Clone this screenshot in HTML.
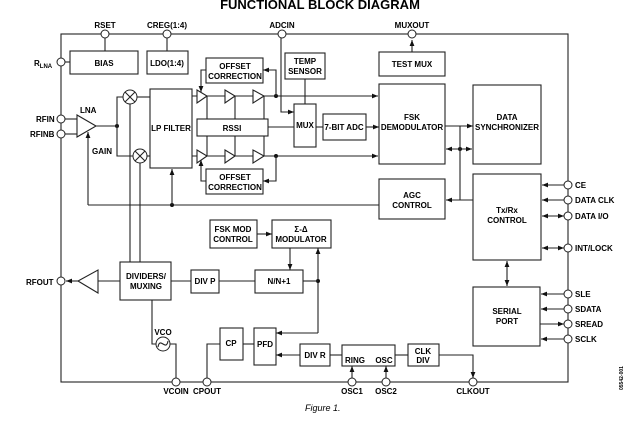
<!DOCTYPE html>
<html><head><meta charset="utf-8"><style>
html,body{margin:0;padding:0;background:#fff;}
svg{display:block;}
text{font-family:"Liberation Sans",Arial,sans-serif;font-weight:bold;font-size:8px;fill:#000;}
.b{fill:#fff;stroke:#222;stroke-width:1.1;}
.l{fill:none;stroke:#222;stroke-width:1.1;}
.c{fill:#fff;stroke:#222;stroke-width:1;}
</style></head><body>
<svg width="640" height="431" viewBox="0 0 640 431" xmlns="http://www.w3.org/2000/svg">
<defs>
<marker id="a" viewBox="0 0 10 10" refX="10" refY="5" markerWidth="7" markerHeight="6" orient="auto-start-reverse" markerUnits="userSpaceOnUse"><path d="M0,1 L10,5 L0,9 z" fill="#111"/></marker>
</defs>
<text x="320" y="9" text-anchor="middle" style="font-size:13px">FUNCTIONAL BLOCK DIAGRAM</text>
<!-- frame -->
<rect x="61" y="34" width="507" height="348" class="l"/>
<!-- top pins -->
<line x1="105" y1="34" x2="105" y2="51" class="l"/>
<line x1="167" y1="34" x2="167" y2="51" class="l"/>
<rect x="70" y="51" width="68" height="23" class="b"/><text x="104" y="66" text-anchor="middle">BIAS</text>
<rect x="147" y="51" width="41" height="23" class="b"/><text x="167" y="66" text-anchor="middle">LDO(1:4)</text>
<text x="105" y="28" text-anchor="middle">RSET</text>
<text x="167" y="28" text-anchor="middle">CREG(1:4)</text>
<text x="282" y="28" text-anchor="middle">ADCIN</text>
<text x="412" y="28" text-anchor="middle">MUXOUT</text>
<line x1="65" y1="62" x2="70" y2="62" class="l"/>
<text x="34" y="66">R<tspan style="font-size:6px" dy="2">LNA</tspan></text>
<!-- ADCIN -->
<polyline points="281,34 281,112 294,112" class="l" marker-end="url(#a)"/>
<!-- LNA -->
<line x1="65" y1="119" x2="77" y2="119" class="l"/><line x1="65" y1="134" x2="77" y2="134" class="l"/>
<polygon points="77,115 77,137 96,126" class="b"/>
<text x="80" y="113">LNA</text><text x="36" y="122">RFIN</text><text x="30" y="137">RFINB</text>
<text x="92" y="154">GAIN</text>
<polyline points="88,205 88,132" class="l" marker-end="url(#a)"/>
<line x1="96" y1="126" x2="117" y2="126" class="l"/>
<circle cx="117" cy="126" r="2" fill="#111"/>
<polyline points="117,126 117,97 123,97" class="l"/>
<polyline points="117,126 117,156 133,156" class="l"/>
<line x1="137" y1="97" x2="150" y2="97" class="l"/>
<line x1="147" y1="156" x2="150" y2="156" class="l"/>
<line x1="130" y1="104" x2="130" y2="262" class="l"/>
<line x1="140" y1="163" x2="140" y2="262" class="l"/>
<g class="c"><circle cx="130" cy="97" r="7"/><circle cx="140" cy="156" r="7"/></g>
<path d="M125,92 L135,102 M135,92 L125,102 M135,151 L145,161 M145,151 L135,161" class="l"/>
<rect x="150" y="89" width="42" height="79" class="b"/><text x="171" y="131" text-anchor="middle">LP FILTER</text>
<!-- amplifier lines -->
<line x1="192" y1="96" x2="378" y2="96" class="l" marker-end="url(#a)"/>
<line x1="192" y1="156" x2="378" y2="156" class="l" marker-end="url(#a)"/>
<line x1="207" y1="96" x2="207" y2="156" class="l"/>
<line x1="235" y1="96" x2="235" y2="156" class="l"/>
<line x1="264" y1="96" x2="264" y2="156" class="l"/>
<g class="b">
<polygon points="197,90 197,103 207,96"/><polygon points="225,90 225,103 235,96"/><polygon points="253,90 253,103 264,96"/>
<polygon points="197,150 197,163 207,156"/><polygon points="225,150 225,163 235,156"/><polygon points="253,150 253,163 264,156"/>
</g>
<rect x="197" y="119" width="71" height="17" class="b"/><text x="232" y="131" text-anchor="middle">RSSI</text>
<line x1="268" y1="127" x2="294" y2="127" class="l"/>
<circle cx="276" cy="96" r="2" fill="#111"/><circle cx="276" cy="156" r="2" fill="#111"/>
<polyline points="276,96 276,70 263,70" class="l" marker-end="url(#a)"/>
<polyline points="276,156 276,181 263,181" class="l" marker-end="url(#a)"/>
<polyline points="206,70 201,70 201,92" class="l" marker-end="url(#a)"/>
<polyline points="206,181 201,181 201,160" class="l" marker-end="url(#a)"/>
<rect x="206" y="58" width="57" height="25" class="b"/><text x="235" y="69" text-anchor="middle">OFFSET</text><text x="235" y="79" text-anchor="middle">CORRECTION</text>
<rect x="206" y="169" width="57" height="25" class="b"/><text x="235" y="180" text-anchor="middle">OFFSET</text><text x="235" y="190" text-anchor="middle">CORRECTION</text>
<line x1="305" y1="79" x2="305" y2="104" class="l"/>
<rect x="285" y="53" width="40" height="26" class="b"/><text x="305" y="64" text-anchor="middle">TEMP</text><text x="305" y="74" text-anchor="middle">SENSOR</text>
<rect x="294" y="104" width="22" height="43" class="b"/><text x="305" y="128" text-anchor="middle">MUX</text>
<line x1="316" y1="127" x2="323" y2="127" class="l"/>
<rect x="323" y="114" width="43" height="26" class="b"/><text x="344" y="130" text-anchor="middle">7-BIT ADC</text>
<line x1="366" y1="127" x2="379" y2="127" class="l" marker-end="url(#a)"/>
<!-- right blocks -->
<line x1="412" y1="52" x2="412" y2="40" class="l" marker-end="url(#a)"/>
<rect x="379" y="52" width="66" height="24" class="b"/><text x="412" y="67" text-anchor="middle">TEST MUX</text>
<rect x="379" y="84" width="66" height="80" class="b"/><text x="412" y="120" text-anchor="middle">FSK</text><text x="412" y="130" text-anchor="middle">DEMODULATOR</text>
<rect x="473" y="85" width="68" height="79" class="b"/><text x="507" y="120" text-anchor="middle">DATA</text><text x="507" y="130" text-anchor="middle">SYNCHRONIZER</text>
<line x1="445" y1="126" x2="473" y2="126" class="l" marker-end="url(#a)"/>
<line x1="446" y1="149" x2="472" y2="149" class="l" marker-start="url(#a)" marker-end="url(#a)"/>
<circle cx="460" cy="149" r="2" fill="#111"/>
<line x1="460" y1="126" x2="460" y2="200" class="l"/>
<line x1="473" y1="200" x2="446" y2="200" class="l" marker-end="url(#a)"/>
<rect x="379" y="179" width="66" height="40" class="b"/><text x="412" y="198" text-anchor="middle">AGC</text><text x="412" y="208" text-anchor="middle">CONTROL</text>
<line x1="88" y1="205" x2="379" y2="205" class="l"/>
<circle cx="172" cy="205" r="2" fill="#111"/>
<line x1="172" y1="205" x2="172" y2="169" class="l" marker-end="url(#a)"/>
<rect x="473" y="174" width="68" height="86" class="b"/><text x="507" y="213" text-anchor="middle">Tx/Rx</text><text x="507" y="223" text-anchor="middle">CONTROL</text>
<line x1="507" y1="261" x2="507" y2="286" class="l" marker-start="url(#a)" marker-end="url(#a)"/>
<rect x="473" y="287" width="67" height="59" class="b"/><text x="507" y="314" text-anchor="middle">SERIAL</text><text x="507" y="324" text-anchor="middle">PORT</text>
<line x1="564" y1="185" x2="542" y2="185" class="l" marker-end="url(#a)"/>
<line x1="564" y1="200" x2="542" y2="200" class="l" marker-end="url(#a)"/>
<line x1="564" y1="216" x2="542" y2="216" class="l" marker-start="url(#a)" marker-end="url(#a)"/>
<line x1="564" y1="248" x2="542" y2="248" class="l" marker-start="url(#a)" marker-end="url(#a)"/>
<line x1="564" y1="294" x2="541" y2="294" class="l" marker-end="url(#a)"/>
<line x1="564" y1="309" x2="541" y2="309" class="l" marker-end="url(#a)"/>
<line x1="540" y1="324" x2="564" y2="324" class="l" marker-end="url(#a)"/>
<line x1="564" y1="339" x2="541" y2="339" class="l" marker-end="url(#a)"/>
<text x="575" y="188">CE</text><text x="575" y="203">DATA CLK</text><text x="575" y="219">DATA I/O</text><text x="575" y="251">INT/LOCK</text>
<text x="575" y="297">SLE</text><text x="575" y="312">SDATA</text><text x="575" y="327">SREAD</text><text x="575" y="342">SCLK</text>
<!-- bottom -->
<rect x="210" y="220" width="47" height="28" class="b"/><text x="233" y="232" text-anchor="middle">FSK MOD</text><text x="233" y="242" text-anchor="middle">CONTROL</text>
<line x1="257" y1="234" x2="272" y2="234" class="l" marker-end="url(#a)"/>
<rect x="272" y="220" width="59" height="28" class="b"/><text x="301" y="232" text-anchor="middle">Σ-Δ</text><text x="301" y="242" text-anchor="middle">MODULATOR</text>
<line x1="290" y1="248" x2="290" y2="270" class="l" marker-end="url(#a)"/>
<line x1="318" y1="333" x2="318" y2="248" class="l" marker-end="url(#a)"/>
<circle cx="318" cy="281" r="2" fill="#111"/>
<line x1="303" y1="281" x2="318" y2="281" class="l"/>
<polyline points="318,333 276,333" class="l" marker-end="url(#a)"/>
<rect x="120" y="262" width="51" height="38" class="b"/><text x="146" y="279" text-anchor="middle">DIVIDERS/</text><text x="146" y="289" text-anchor="middle">MUXING</text>
<line x1="171" y1="281" x2="191" y2="281" class="l"/>
<rect x="191" y="270" width="28" height="23" class="b"/><text x="205" y="284" text-anchor="middle">DIV P</text>
<line x1="219" y1="281" x2="255" y2="281" class="l"/>
<rect x="255" y="270" width="48" height="23" class="b"/><text x="279" y="284" text-anchor="middle">N/N+1</text>
<line x1="120" y1="281" x2="98" y2="281" class="l"/>
<polygon points="98,270 98,293 78,281" class="b"/>
<line x1="78" y1="281" x2="66" y2="281" class="l" marker-end="url(#a)"/>
<text x="26" y="285">RFOUT</text>
<polyline points="152,300 152,344 156,344" class="l"/>
<polyline points="170,344 176,344 176,378" class="l"/>
<circle cx="163" cy="344" r="7" class="c"/>
<path d="M158,347 C160,336 166,352 168,341" class="l"/>
<text x="163" y="335" text-anchor="middle">VCO</text>
<polyline points="207,378 207,344 220,344" class="l"/>
<rect x="220" y="328" width="23" height="32" class="b"/><text x="231" y="346" text-anchor="middle">CP</text>
<line x1="243" y1="344" x2="254" y2="344" class="l"/>
<rect x="254" y="328" width="22" height="37" class="b"/><text x="265" y="347" text-anchor="middle">PFD</text>
<line x1="300" y1="355" x2="276" y2="355" class="l" marker-end="url(#a)"/>
<rect x="300" y="344" width="30" height="22" class="b"/><text x="315" y="358" text-anchor="middle">DIV R</text>
<line x1="330" y1="355" x2="342" y2="355" class="l"/>
<rect x="342" y="345" width="53" height="21" class="b"/><text x="355" y="363" text-anchor="middle">RING</text><text x="384" y="363" text-anchor="middle">OSC</text>
<line x1="395" y1="355" x2="408" y2="355" class="l"/>
<rect x="408" y="344" width="31" height="22" class="b"/><text x="423" y="354" text-anchor="middle">CLK</text><text x="423" y="363" text-anchor="middle">DIV</text>
<polyline points="439,355 473,355 473,378" class="l" marker-end="url(#a)"/>
<line x1="352" y1="378" x2="352" y2="366" class="l" marker-end="url(#a)"/>
<line x1="386" y1="378" x2="386" y2="366" class="l" marker-end="url(#a)"/>
<text x="176" y="394" text-anchor="middle">VCOIN</text><text x="207" y="394" text-anchor="middle">CPOUT</text>
<text x="352" y="394" text-anchor="middle">OSC1</text><text x="386" y="394" text-anchor="middle">OSC2</text><text x="473" y="394" text-anchor="middle">CLKOUT</text>
<text x="305" y="411" style="font-weight:normal;font-style:italic;font-size:9px">Figure 1.</text>
<text x="0" y="0" transform="translate(623,390) rotate(-90)" style="font-size:5px">05542-001</text>
<!-- pins -->
<g class="c">
<circle cx="105" cy="34" r="4"/><circle cx="167" cy="34" r="4"/><circle cx="282" cy="34" r="4"/><circle cx="412" cy="34" r="4"/>
<circle cx="61" cy="62" r="4"/><circle cx="61" cy="119" r="4"/><circle cx="61" cy="134" r="4"/><circle cx="61" cy="281" r="4"/>
<circle cx="568" cy="185" r="4"/><circle cx="568" cy="200" r="4"/><circle cx="568" cy="216" r="4"/><circle cx="568" cy="248" r="4"/>
<circle cx="568" cy="294" r="4"/><circle cx="568" cy="309" r="4"/><circle cx="568" cy="324" r="4"/><circle cx="568" cy="339" r="4"/>
<circle cx="176" cy="382" r="4"/><circle cx="207" cy="382" r="4"/><circle cx="352" cy="382" r="4"/><circle cx="386" cy="382" r="4"/><circle cx="473" cy="382" r="4"/>
</g>
</svg>
</body></html>
